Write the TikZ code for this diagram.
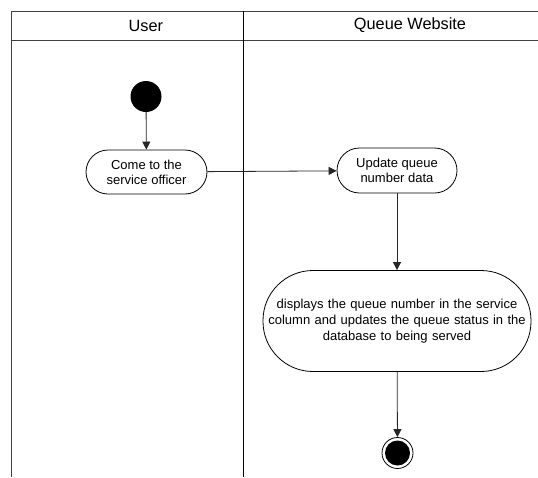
\documentclass[tikz,border=0pt]{standalone}
\usepackage{fontspec}
\setmainfont{Liberation Sans}
\usetikzlibrary{arrows.meta}
\begin{document}
\begin{tikzpicture}[x=1pt,y=-1pt,
  lane/.style={draw=black!75, line width=1pt},
  action/.style={draw=black, line width=0.8pt, fill=white, align=center,
    font=\fontsize{13}{15.3}\selectfont, inner sep=1pt},
  flow/.style={draw=black!85, line width=0.8pt, -{Triangle[length=8pt,width=8pt]}},
  lanetitle/.style={font=\fontsize{16.3}{18}\selectfont}
]
\useasboundingbox (0,0) rectangle (538,477);

% swimlane frame
\draw[lane] (11,477) -- (11,11) -- (538,11);
\draw[lane] (11,40.5) -- (538,40.5);
\draw[draw=black, line width=1pt] (243.5,11) -- (243.5,477);
\node[lanetitle] (laneUser) at (145.8,25.5) {User};
\node[lanetitle] (laneWeb) at (410,25.5) {Queue Website};

% start and end states
\node[circle, fill=black, minimum size=31pt, inner sep=0pt] (start) at (146,96.5) {};
\node[circle, draw=black, line width=0.8pt, minimum size=31pt, inner sep=0pt] (stop) at (397.5,453) {};
\node[circle, fill=black, minimum size=25pt, inner sep=0pt] (stopdot) at (stop.center) {};

% actions
\node[action, minimum width=121pt, minimum height=44pt, rounded corners=22pt] (come) at (146.5,172) {Come to the\\service officer};
\node[action, minimum width=120pt, minimum height=45pt, rounded corners=22.5pt] (update) at (397,170.5) {Update queue\\number data};
\node[action, minimum width=268pt, minimum height=101pt, rounded corners=50pt, text width=266pt,
  font=\fontsize{13}{16.3}\selectfont] (show) at (397,321) {displays the queue number in the service\\column and updates the queue status in the\\database to being served};

% control flow
\draw[flow] (start) -- (come);
\draw[flow] (come) -- (update);
\draw[flow] (update) -- (show);
\draw[flow] (show) -- (stop);
\end{tikzpicture}
\end{document}
